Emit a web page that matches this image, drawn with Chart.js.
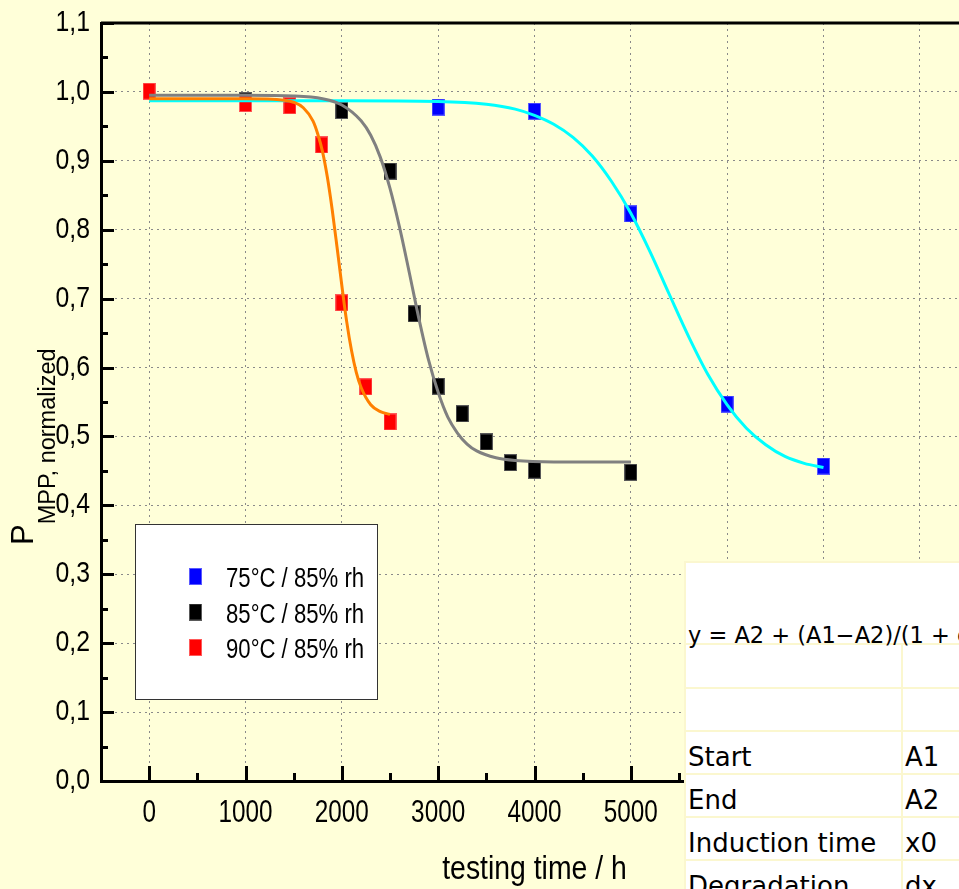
<!DOCTYPE html>
<html>
<head>
<meta charset="utf-8">
<title>P_MPP, normalized vs testing time</title>
<script src="https://cdn.jsdelivr.net/npm/chart.js@4.4.1/dist/chart.umd.min.js"></script>
<style>
  html, body { margin: 0; padding: 0; background: #ffffd9; overflow: hidden; width: 959px; height: 889px; }
  #wrap { position: relative; width: 1000px; height: 889px; }
  #chart { position: absolute; left: 0; top: 0; }
  #fit { position: absolute; left: 684px; top: 561px; width: 480px; display: grid; grid-template-columns: 215px 260px; grid-template-rows: 80px 42px 41px 41px 41px 41px 41px; gap: 2px; padding: 2px; background: #fbf7cf; }
  #fit div { background: #fff; font: 26px 'DejaVu Sans', sans-serif; color: #000; white-space: nowrap; overflow: visible; padding: 8px 0 0 2px; line-height: 34px; box-sizing: border-box; }
  #fit .eq { grid-column: 1 / span 2; position: relative; padding: 0; }
  #fit .eq span { position: absolute; left: 2px; bottom: -7px; font-size: 22.5px; line-height: 30px; }
</style>
</head>
<body>
<div id="wrap">
  <canvas id="chart" width="1000" height="889"></canvas>
  <div id="fit"></div>
</div>
<script>
// measured points (normalized P_MPP vs testing time in h)
const seriesLabels = ['75°C / 85% rh', '85°C / 85% rh', '90°C / 85% rh'];
const pointColors = ['#0000ff', '#000000', '#ff0000'];
const curveColors = ['#00ffff', '#808080', '#ff8000'];

const time75 = [0, 3000, 4000, 5000, 6000, 7000];
const val75  = [1.000, 0.978, 0.972, 0.823, 0.547, 0.457];

const time85 = [0, 1000, 2000, 2500, 2750, 3000, 3250, 3500, 3750, 4000, 5000];
const val85  = [1.000, 0.987, 0.973, 0.885, 0.678, 0.573, 0.533, 0.492, 0.462, 0.451, 0.448];

const time90 = [0, 1000, 1460, 1790, 2000, 2250, 2500];
const val90  = [1.001, 0.983, 0.980, 0.923, 0.694, 0.572, 0.521];

// fitted curves
const fitTime75 = [0, 1000, 2000, 3000, 3500, 3800, 4000, 4200, 4400, 4600, 4800, 5000, 5200, 5400, 5600, 5800, 6000, 6200, 6400, 6600, 6800, 7000];
const fitVal75  = [0.987, 0.987, 0.987, 0.986, 0.982, 0.975, 0.966, 0.953, 0.934, 0.907, 0.870, 0.824, 0.768, 0.706, 0.645, 0.590, 0.546, 0.512, 0.488, 0.471, 0.461, 0.455];

const fitTime85 = [0, 1000, 1500, 1800, 2000, 2200, 2300, 2400, 2500, 2600, 2700, 2800, 2900, 3000, 3100, 3200, 3300, 3400, 3600, 3800, 4200, 5000];
const fitVal85  = [0.995, 0.995, 0.994, 0.990, 0.981, 0.958, 0.937, 0.905, 0.860, 0.803, 0.738, 0.671, 0.611, 0.564, 0.528, 0.505, 0.489, 0.479, 0.469, 0.465, 0.463, 0.463];

const fitTime90 = [0, 1000, 1400, 1500, 1600, 1700, 1750, 1800, 1850, 1900, 1950, 2000, 2050, 2100, 2150, 2200, 2300, 2400, 2500];
const fitVal90  = [0.990, 0.990, 0.988, 0.985, 0.977, 0.958, 0.939, 0.913, 0.876, 0.829, 0.775, 0.719, 0.667, 0.625, 0.593, 0.571, 0.546, 0.536, 0.532];

const xTicks = [0, 1000, 2000, 3000, 4000, 5000, 6000, 7000, 8000];
const yTicks = [0, 0.1, 0.2, 0.3, 0.4, 0.5, 0.6, 0.7, 0.8, 0.9, 1.0, 1.1];

const fitRows = [['', ''], ['', ''], ['Start', 'A1'], ['End', 'A2'], ['Induction time', 'x0'], ['Degradation', 'dx']];
const fitEquation = 'y = A2 + (A1\u2212A2)/(1 + exp((x\u2212x0)/dx))';

const SANS = "'Liberation Sans', Arial, sans-serif";

function pts(xs, ys) {
    return xs.map((x, i) => ({ x: x, y: ys[i] }));
}

// tall square markers like the original plot
function markerImage(color) {
    const c = document.createElement('canvas');
    c.width = 13; c.height = 17;
    const g = c.getContext('2d');
    g.fillStyle = color;
    g.fillRect(0, 0, 13, 17);
    g.strokeStyle = 'rgba(255,255,255,0.35)';
    g.lineWidth = 1;
    g.strokeRect(0.5, 0.5, 12, 16);
    return c;
}
const markers = pointColors.map(markerImage);

// condensed text: Arial-like glyphs squeezed horizontally
function narrowText(ctx, text, x, y, size, squeeze, align) {
    ctx.save();
    ctx.font = size + 'px ' + SANS;
    ctx.textBaseline = 'alphabetic';
    const w = ctx.measureText(text).width * squeeze;
    let left = x;
    if (align === 'center') left = x - w / 2;
    if (align === 'right') left = x - w;
    ctx.translate(left, y);
    ctx.scale(squeeze, 1);
    ctx.textAlign = 'left';
    ctx.fillText(text, 0, 0);
    ctx.restore();
}

const pointSets = [[time75, val75], [time85, val85], [time90, val90]];
const fitSets = [[fitTime75, fitVal75], [fitTime85, fitVal85], [fitTime90, fitVal90]];

const datasets = [];
pointSets.forEach(([xs, ys], i) => {
    datasets.push({
        label: seriesLabels[i],
        data: pts(xs, ys),
        showLine: false,
        pointStyle: markers[i],
        pointRadius: 8,
        backgroundColor: pointColors[i],
        borderColor: pointColors[i],
        order: 10 - i
    });
});
fitSets.forEach(([xs, ys], i) => {
    datasets.push({
        label: seriesLabels[i] + ' fit',
        data: pts(xs, ys),
        showLine: true,
        pointRadius: 0,
        borderColor: curveColors[i],
        borderWidth: 3,
        cubicInterpolationMode: 'monotone',
        fill: false,
        order: 3 - i
    });
});

const frameAndTicks = {
    id: 'frameAndTicks',
    afterDraw(chart) {
        const { ctx, chartArea: a, scales: { x, y } } = chart;
        ctx.save();
        ctx.strokeStyle = '#000';
        ctx.fillStyle = '#000';
        // top frame
        ctx.lineWidth = 3;
        ctx.beginPath();
        ctx.moveTo(a.left, a.top);
        ctx.lineTo(a.right, a.top);
        ctx.stroke();
        // inward ticks on the left axis
        for (let v = 0; v <= 1.1001; v += 0.05) {
            const py = Math.round(y.getPixelForValue(v)) + 0.5;
            const major = Math.abs(v * 10 - Math.round(v * 10)) < 1e-6;
            ctx.beginPath();
            ctx.moveTo(a.left, py);
            ctx.lineTo(a.left + (major ? 13 : 7), py);
            ctx.stroke();
        }
        // inward ticks on the bottom axis
        for (let v = 0; v <= 8500; v += 500) {
            const px = Math.round(x.getPixelForValue(v)) + 0.5;
            const major = v % 1000 === 0;
            ctx.beginPath();
            ctx.moveTo(px, a.bottom);
            ctx.lineTo(px, a.bottom - (major ? 15 : 8));
            ctx.stroke();
        }
        // tick labels
        yTicks.forEach(v => {
            narrowText(ctx, v.toFixed(1).replace('.', ','), a.left - 11, y.getPixelForValue(v) + 8, 29.5, 0.84, 'right');
        });
        xTicks.forEach(v => {
            narrowText(ctx, String(v), x.getPixelForValue(v), a.bottom + 41, 32, 0.76, 'center');
        });
        // x axis title
        narrowText(ctx, 'testing time / h', (a.left + a.right) / 2, 879, 33, 0.86, 'center');

        // legend box
        ctx.fillStyle = '#fff';
        ctx.fillRect(135, 524, 243, 176);
        ctx.lineWidth = 1;
        ctx.strokeStyle = '#333';
        ctx.strokeRect(135.5, 524.5, 242, 175);
        ctx.fillStyle = '#000';
        seriesLabels.forEach((label, i) => {
            const base = 587 + i * 35.5;
            ctx.drawImage(markers[i], 189, base - 19);
            narrowText(ctx, label, 226, base, 27, 0.82, 'left');
        });

        // y axis title with subscript
        ctx.translate(33, 545);
        ctx.rotate(-Math.PI / 2);
        ctx.textBaseline = 'alphabetic';
        ctx.textAlign = 'left';
        ctx.font = '31px ' + SANS;
        ctx.fillText('P', 0, 0);
        const w = ctx.measureText('P').width;
        ctx.font = '23.5px ' + SANS;
        ctx.fillText('MPP, normalized', w, 22);
        ctx.restore();
    }
};

new Chart(document.getElementById('chart'), {
    type: 'scatter',
    data: { datasets: datasets },
    options: {
        responsive: false,
        animation: false,
        events: [],
        layout: { padding: { left: 0, right: 32, top: 23, bottom: 0 } },
        plugins: { legend: { display: false }, tooltip: { enabled: false } },
        scales: {
            x: {
                type: 'linear',
                min: -500,
                max: 8500,
                afterBuildTicks: s => { s.ticks = xTicks.map(v => ({ value: v })); },
                afterFit: s => { s.height = 108; },
                grid: { color: '#8a8a8a', lineWidth: 1, drawTicks: false },
                border: { color: '#000', width: 3, dash: [2, 4] },
                ticks: { display: false }
            },
            y: {
                type: 'linear',
                min: 0,
                max: 1.1,
                afterBuildTicks: s => { s.ticks = yTicks.map(v => ({ value: v })); },
                afterFit: s => { s.width = 101; },
                grid: { color: '#8a8a8a', lineWidth: 1, drawTicks: false },
                border: { color: '#000', width: 3, dash: [2, 4] },
                ticks: { display: false }
            }
        }
    },
    plugins: [frameAndTicks]
});

// fit parameter table laid over the chart
const fit = document.getElementById('fit');
const eq = document.createElement('div');
eq.className = 'eq';
eq.innerHTML = '<span>' + fitEquation + '</span>';
fit.appendChild(eq);
fitRows.forEach(r => {
    r.forEach(t => {
        const c = document.createElement('div');
        c.textContent = t;
        fit.appendChild(c);
    });
});
</script>
</body>
</html>
